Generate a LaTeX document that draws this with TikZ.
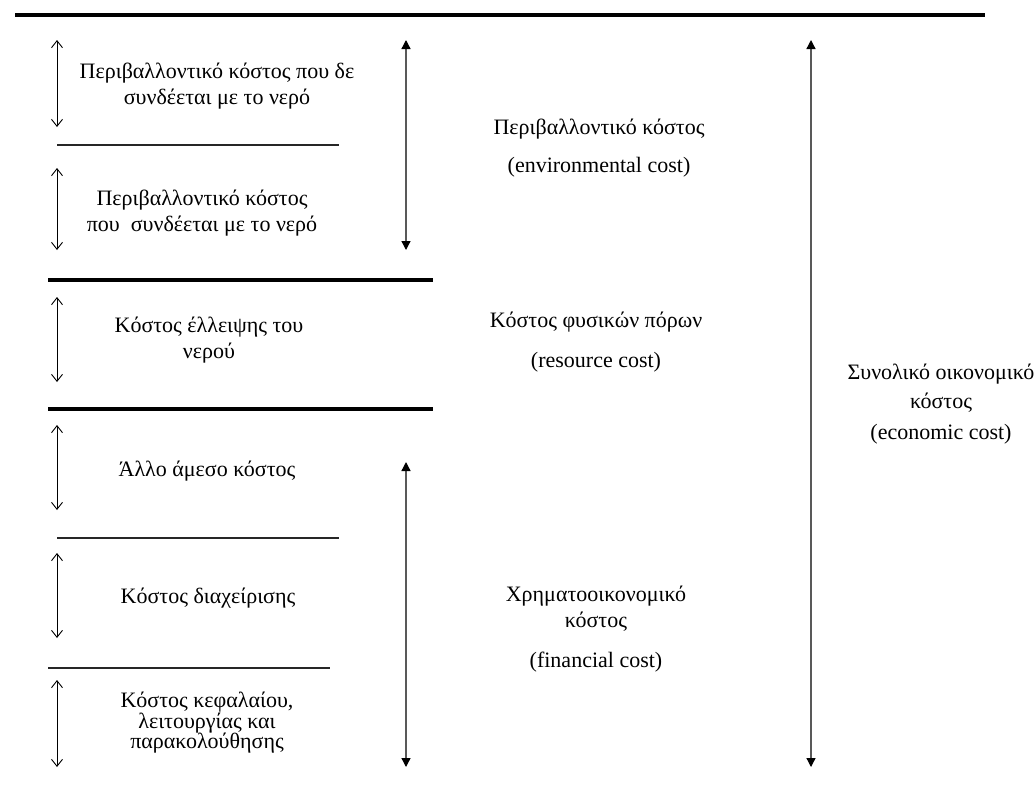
\documentclass[tikz,border=0pt]{standalone}
\usepackage{fontspec}
\setmainfont{Liberation Serif}
\usetikzlibrary{arrows.meta}
\begin{document}
\begin{tikzpicture}[x=1pt,y=-1pt,
  txt/.style={font=\fontsize{22}{25.5}\selectfont, align=center, inner sep=0pt},
  txtsm/.style={font=\fontsize{22}{20.5}\selectfont, align=center, inner sep=0pt},
  toprule/.style={line width=4.5pt, black},
  thickrule/.style={line width=3.6pt, black},
  thinrule/.style={line width=1.2pt, black!85},
  smallarr/.style={line width=0.9pt, black,
    {Straight Barb[length=7pt,width=11pt]}-{Straight Barb[length=7pt,width=11pt]}},
  bigarr/.style={line width=1.3pt, black!65,
    {Triangle[length=9pt,width=9pt,color=black]}-{Triangle[length=9pt,width=9pt,color=black]}}
]
\useasboundingbox (0,0) rectangle (1036,785);
\fill[white] (0,0) rectangle (1036,785);

% horizontal rules
\coordinate (topL) at (15,15);    \coordinate (topR) at (985,15);
\coordinate (th2L) at (48,280);   \coordinate (th2R) at (433,280);
\coordinate (th3L) at (48,409);   \coordinate (th3R) at (433,409);
\coordinate (tn1L) at (57,145);   \coordinate (tn1R) at (339,145);
\coordinate (tn2L) at (57,538);   \coordinate (tn2R) at (339,538);
\coordinate (tn3L) at (48,668);   \coordinate (tn3R) at (330,668);
\draw[toprule] (topL) -- (topR);
\draw[thickrule] (th2L) -- (th2R);
\draw[thickrule] (th3L) -- (th3R);
\draw[thinrule] (tn1L) -- (tn1R);
\draw[thinrule] (tn2L) -- (tn2R);
\draw[thinrule] (tn3L) -- (tn3R);

% small arrows
\coordinate (a1t) at (57,40);  \coordinate (a1b) at (57,127);
\coordinate (a2t) at (57,168); \coordinate (a2b) at (57,250);
\coordinate (a3t) at (57,297); \coordinate (a3b) at (57,382);
\coordinate (a4t) at (57,425); \coordinate (a4b) at (57,510);
\coordinate (a5t) at (57,553); \coordinate (a5b) at (57,638);
\coordinate (a6t) at (57,680); \coordinate (a6b) at (57,767);
\draw[smallarr] (a1t) -- (a1b);
\draw[smallarr] (a2t) -- (a2b);
\draw[smallarr] (a3t) -- (a3b);
\draw[smallarr] (a4t) -- (a4b);
\draw[smallarr] (a5t) -- (a5b);
\draw[smallarr] (a6t) -- (a6b);

% big arrows
\coordinate (m1t) at (406,40);  \coordinate (m1b) at (406,250);
\coordinate (m2t) at (406,462); \coordinate (m2b) at (406,767);
\coordinate (rt) at (811,40);   \coordinate (rb) at (811,767);
\draw[bigarr] (m1t) -- (m1b);
\draw[bigarr] (m2t) -- (m2b);
\draw[bigarr] (rt) -- (rb);

% left texts
\node[txt] (t1) at (217,86) {Περιβαλλοντικό κόστος που δε\\συνδέεται με το νερό};
\node[txt] (t2) at (202,213) {Περιβαλλοντικό κόστος\\που\ \ συνδέεται με το νερό};
\node[txt] (t3) at (209,340) {Κόστος έλλειψης του\\νερού};
\node[txt] (t4) at (207,471) {Άλλο άμεσο κόστος};
\node[txt] (t5) at (208,598) {Κόστος διαχείρισης};
\node[txtsm] (t6) at (207,723) {Κόστος κεφαλαίου,\\λειτουργίας και\\παρακολούθησης};

% middle texts
\node[txt] (c1) at (599,148) {Περιβαλλοντικό κόστος\\[12.5pt](environmental cost)};
\node[txt] (c2) at (596,342) {Κόστος φυσικών πόρων\\[14.5pt](resource cost)};
\node[txt] (c3) at (596,629) {Χρηματοοικονομικό\\κόστος\\[14.5pt](financial cost)};

% right text
\node[txt] (r1) at (941,404) {Συνολικό οικονομικό\\[3.5pt]κόστος\\[5.5pt](economic cost)};
\end{tikzpicture}
\end{document}
